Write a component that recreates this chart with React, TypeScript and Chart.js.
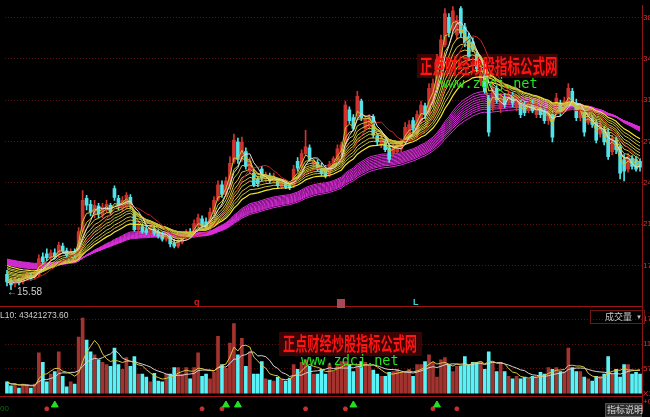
import React, { useEffect, useRef } from 'react';
import { Chart, registerables } from 'chart.js';

Chart.register(...registerables);

// ---- data ----
const opens = [16.86,16.37,16.05,16.37,16.21,16.53,16.78,16.62,16.78,18.32,18.56,18.24,18.64,18.48,19.21,18.81,18.48,18.73,18.32,20.43,23.19,22.70,21.89,22.54,21.81,22.22,22.62,24.00,23.19,22.38,22.46,23.27,21.89,20.59,20.84,20.59,20.35,20.67,20.35,20.11,19.78,19.94,19.46,19.21,19.54,19.86,20.35,20.27,20.92,21.49,21.24,21.08,22.05,23.11,24.33,23.52,24.25,26.28,27.90,26.52,27.09,25.47,25.30,24.82,25.63,24.82,25.06,24.65,24.65,24.16,24.49,24.33,24.25,26.28,25.79,26.93,27.42,26.12,26.20,25.87,25.63,25.14,26.03,26.44,27.09,27.74,30.58,29.93,30.10,31.31,29.04,29.20,30.02,28.39,27.66,27.90,27.42,26.93,27.09,27.33,27.90,28.31,29.69,28.55,29.69,30.91,30.34,31.15,32.37,34.40,36.02,38.30,37.24,36.83,39.03,37.49,36.67,36.27,35.21,32.93,34.07,31.56,30.74,32.37,30.74,31.64,31.23,31.80,30.83,31.15,30.99,30.51,31.15,30.18,30.74,30.50,29.69,30.18,30.34,31.15,30.74,31.15,32.12,31.15,29.93,30.34,29.53,29.85,29.53,28.55,28.96,28.71,27.09,28.06,27.50,26.44,25.63,26.52,26.44,26.28];
const highs = [17.18,16.53,16.62,16.53,16.78,17.02,16.94,17.10,18.48,18.64,18.97,18.89,18.97,19.54,19.46,19.05,18.97,18.97,20.76,23.84,23.44,23.03,23.03,22.78,22.78,23.03,22.78,24.25,23.44,23.35,23.68,23.51,22.22,21.24,21.08,20.92,21.00,20.92,20.59,20.35,20.27,20.11,19.78,19.78,20.11,20.59,20.67,21.41,21.89,21.73,21.57,22.38,23.35,24.65,24.65,24.98,26.68,28.55,28.23,28.31,27.42,26.60,25.63,25.06,25.87,25.38,25.30,25.30,24.90,24.73,24.73,24.57,25.95,26.60,27.25,28.88,27.66,26.44,26.44,26.12,25.95,26.28,26.68,27.66,27.90,31.31,30.83,30.18,32.12,31.48,30.10,30.18,30.18,28.63,28.55,28.15,27.66,27.74,27.90,28.15,29.53,29.69,29.93,30.50,31.31,31.15,32.77,33.18,35.21,36.83,39.03,38.62,39.20,38.46,39.20,37.81,36.99,36.59,35.54,33.91,34.40,31.80,32.77,32.61,31.96,31.96,32.12,32.04,31.80,31.39,31.31,31.31,31.39,31.15,30.99,30.83,30.66,30.50,31.96,31.39,31.64,32.77,32.37,31.48,30.74,30.58,30.26,30.10,29.77,29.69,29.20,29.04,28.47,28.31,27.74,26.85,26.93,26.76,26.68,26.52];
const lows = [15.88,15.58,15.80,15.96,16.05,16.37,16.37,16.45,16.62,17.75,18.00,18.08,18.16,18.32,18.64,18.32,18.32,18.24,18.16,20.27,22.22,21.73,21.57,21.57,21.57,21.98,21.81,23.03,22.22,22.13,22.30,22.30,20.43,20.35,20.27,20.19,20.19,20.11,19.86,19.62,19.62,19.13,19.05,19.05,19.38,19.70,19.94,20.11,20.76,20.76,20.59,20.92,21.89,22.95,23.27,23.35,24.00,26.12,26.12,26.28,25.63,25.30,24.16,24.16,24.65,24.57,24.49,24.49,24.00,24.00,24.00,23.92,24.08,25.47,25.63,26.76,26.28,25.63,25.47,25.06,24.90,24.98,25.87,26.28,26.85,27.58,29.45,28.88,29.85,29.69,28.80,28.96,28.23,27.66,27.42,27.09,26.20,26.68,26.93,27.09,27.74,28.06,28.71,28.31,29.45,29.85,30.18,30.83,32.12,34.23,35.86,36.67,37.08,36.43,36.67,35.86,34.80,35.45,33.75,32.61,31.96,28.39,30.50,31.15,30.34,30.74,30.99,30.83,30.50,29.93,30.10,30.34,30.34,29.93,29.93,29.45,29.36,27.90,30.18,30.10,30.50,30.91,30.91,29.69,29.69,28.39,29.36,29.12,27.82,28.31,27.66,26.44,26.85,26.93,24.82,24.65,25.38,25.63,25.47,25.47];
const closes = [16.21,15.96,16.45,16.13,16.62,16.86,16.53,16.94,18.16,17.91,18.24,18.64,18.32,19.29,18.81,18.48,18.73,18.48,20.43,23.03,22.62,22.05,22.62,21.89,22.46,22.70,22.05,23.27,22.54,23.03,23.44,22.54,20.59,20.92,20.43,20.35,20.76,20.27,20.03,19.78,20.11,19.38,19.21,19.62,19.94,20.35,20.11,21.08,21.57,20.92,20.76,22.05,23.03,24.33,23.52,24.65,26.12,28.06,26.44,27.90,25.87,26.28,24.33,24.41,24.90,25.14,24.65,24.98,24.25,24.49,24.16,24.08,25.63,25.71,26.93,27.50,26.44,26.28,25.63,25.30,25.06,26.03,26.52,27.33,27.66,30.99,29.69,29.04,31.72,29.93,29.85,29.93,28.47,27.90,28.23,27.25,26.44,27.42,27.66,27.90,29.12,29.36,29.04,30.18,30.99,30.18,32.37,32.77,34.80,36.43,38.62,37.00,38.86,38.05,36.99,36.18,35.05,35.62,33.99,33.59,32.12,28.71,32.37,31.39,31.56,30.99,31.80,31.15,31.56,30.18,30.34,31.07,30.50,30.83,30.18,29.69,30.34,28.31,31.56,30.34,31.31,32.37,31.15,29.93,30.50,28.71,30.02,29.36,28.06,29.36,27.90,26.68,28.23,27.25,25.30,25.47,26.68,25.87,25.63,25.79];
const volumes = [2700,1800,2200,1300,2200,2000,1300,2200,9400,7200,2700,4500,5100,9600,4000,1600,2700,2200,13000,17400,12300,9600,8900,7800,7200,6700,6300,10500,6700,5600,8300,6300,8500,4500,4500,3800,2700,4700,2900,2700,4500,4500,6000,6000,4500,6000,3400,6000,9400,4000,4500,3400,4900,13200,6700,5800,11600,16100,8900,12700,6300,9600,4500,4500,7400,3400,3100,2900,3800,3400,2900,3600,6700,5600,7200,7800,6300,4500,4500,5600,4500,6700,5100,6700,7400,7400,6700,5100,6700,7400,7200,6300,5400,4500,4000,4000,4900,5100,5600,4900,4900,5600,4000,6700,6700,7400,8900,7200,3800,7800,8300,6700,5100,6300,6300,8500,6700,7200,7200,7400,5600,9600,7400,5100,7200,5100,4000,3400,4000,3400,3800,3400,4000,4000,4900,4500,6000,5600,6000,5100,5100,10500,6000,5100,5100,3800,3400,2900,4000,4000,4500,8500,4500,5600,3800,6700,6700,4500,4900,4500];

const priceTicks = [17.6, 21.05, 24.5, 27.95, 31.4, 34.85, 38.3];
const volumeTicks = [0, 5700, 11400, 17100];
const volumeTickLabels = ['X100', '5700', '11400', '17100'];
const indicatorTicks = [6];
const indicatorTickLabels = ['+0.00'];

const shortPeriods = [3, 5, 7, 9, 11, 13, 15, 18, 21, 25];
const shortSeeds = [16.6, 16.7, 16.8, 16.95, 17.1, 17.2, 17.3, 17.45, 17.55, 17.7];
const longPeriods = [36, 38, 40, 42, 44, 46, 48, 50, 52, 55];
const longSeeds = [17.75, 17.8, 17.85, 17.9, 17.95, 18.0, 18.05, 18.1, 18.15, 18.2];

const buySignals = [12, 55, 58, 87, 108];
const sellSignals = [10, 49, 54, 75, 85, 107, 113];

const lowLabel = '\u219015.58';
const volumeHeader = 'L10: 43421273.60';
const watermarkCn = '正点财经炒股指标公式网';
const watermarkUrl = 'www.zdcj.net';

// ---- helpers ----
function ema(src: number[], period: number, seed: number): number[] {
  const k = 2 / (period + 1);
  let prev = seed;
  return src.map((v) => {
    prev = prev + k * (v - prev);
    return prev;
  });
}
function sma(src: number[], period: number): number[] {
  return src.map((_, i) => {
    const from = Math.max(0, i - period + 1);
    const win = src.slice(from, i + 1);
    return win.reduce((a, b) => a + b, 0) / win.length;
  });
}

const labels = closes.map((_, i) => String(i + 1));
const up = closes.map((c, i) => c >= opens[i]);
const candleColors = up.map((u) => (u ? '#d0332d' : '#52e3ea'));
const volColors = up.map((u) => (u ? '#a2332e' : '#5af2f6'));

const overlay = {
  id: 'overlay',
  beforeDatasetsDraw(chart: any) {
    const ctx = chart.ctx as CanvasRenderingContext2D;
    ctx.save();
    ctx.fillStyle = 'rgba(62,4,4,0.9)';
    ctx.fillRect(417, 54, 141, 24);
    ctx.fillRect(279, 332, 143, 24);
    ctx.restore();
  },
  afterDatasetsDraw(chart: any) {
    const ctx = chart.ctx as CanvasRenderingContext2D;
    const sV = chart.scales.yV;
    const sI = chart.scales.yI;
    const right = chart.chartArea.right;
    ctx.save();
    ctx.strokeStyle = '#9c1414';
    ctx.lineWidth = 1;
    ctx.beginPath();
    ctx.moveTo(0, Math.round(sV.top) + 0.5);
    ctx.lineTo(right, Math.round(sV.top) + 0.5);
    ctx.moveTo(0, Math.round(sI.top) + 0.5);
    ctx.lineTo(right, Math.round(sI.top) + 0.5);
    ctx.stroke();

    const drawCn = (x: number, y: number, size: number) => {
      ctx.save();
      ctx.translate(x, y);
      ctx.scale(1, 1.6);
      ctx.font = `bold ${size}px "Noto Sans CJK SC"`;
      ctx.fillStyle = '#ff1414';
      ctx.textBaseline = 'middle';
      ctx.textAlign = 'left';
      ctx.fillText(watermarkCn, 0, 0);
      ctx.restore();
    };
    drawCn(420, 66, 12.5);
    drawCn(283, 344, 12.2);
    ctx.font = '13.5px "DejaVu Sans Mono"';
    ctx.fillStyle = '#22e622';
    ctx.textBaseline = 'middle';
    ctx.fillText(watermarkUrl, 440, 84);
    ctx.fillText(watermarkUrl, 301, 361);

    ctx.font = '10px "Liberation Sans"';
    ctx.fillStyle = '#d0d0d0';
    ctx.fillText(lowLabel, 7, 292);

    ctx.font = '8.5px "Liberation Sans"';
    ctx.fillStyle = '#cfcfcf';
    ctx.fillText(volumeHeader, 0, 316);

    ctx.font = 'bold 9px "Liberation Sans"';
    ctx.fillStyle = '#d42020';
    ctx.fillText('q', 194, 303);
    ctx.fillStyle = '#a84858';
    ctx.fillRect(337, 299, 8, 9);
    ctx.fillStyle = '#30d6d6';
    ctx.fillText('L', 413, 303);

    ctx.strokeStyle = '#701414';
    ctx.strokeRect(590.5, 310.5, 54, 13);
    ctx.font = '9px "Noto Sans CJK SC"';
    ctx.fillStyle = '#c8c8c8';
    ctx.fillText('成交量', 605, 317);
    ctx.font = '6px "Liberation Sans"';
    ctx.fillText('\u25BC', 636, 317);

    ctx.fillStyle = '#2e2e2e';
    ctx.fillRect(605, 403, 37, 14);
    ctx.strokeStyle = '#505050';
    ctx.strokeRect(605.5, 403.5, 36, 13);
    ctx.font = '9px "Noto Sans CJK SC"';
    ctx.fillStyle = '#d8d8d8';
    ctx.fillText('指标说明', 607, 410);

    ctx.font = '8px "Liberation Sans"';
    ctx.fillStyle = '#0d6a0d';
    ctx.fillText('00', 0, 409);
    ctx.restore();
  },
};

function makeConfig(): any {
  const datasets: any[] = [];
  datasets.push({ type: 'line', label: 'MA5', data: sma(closes, 5), yAxisID: 'yP', borderColor: '#dedede', borderWidth: 1, pointRadius: 0, order: 2 });
  datasets.push({ type: 'line', label: 'MA10', data: sma(closes, 10), yAxisID: 'yP', borderColor: '#c42222', borderWidth: 1, pointRadius: 0, order: 3 });
  shortPeriods.forEach((p, k) => {
    datasets.push({
      type: 'line', label: 'EMA' + p, data: ema(closes, p, shortSeeds[k]), yAxisID: 'yP',
      borderColor: k === shortPeriods.length - 1 ? '#f2e626' : '#cdc23a',
      borderWidth: k === shortPeriods.length - 1 ? 1.2 : 1, pointRadius: 0, order: 4,
    });
  });
  datasets.push({
    type: 'bar', label: 'body', data: opens.map((o, i) => [o, closes[i]]), yAxisID: 'yP',
    backgroundColor: candleColors, barThickness: 3, grouped: false, borderWidth: 0, order: 5,
  });
  datasets.push({
    type: 'bar', label: 'wick', data: lows.map((l, i) => [l, highs[i]]), yAxisID: 'yP',
    backgroundColor: candleColors, barThickness: 1, grouped: false, borderWidth: 0, order: 6,
  });
  longPeriods.forEach((p, k) => {
    datasets.push({
      type: 'line', label: 'EMA' + p, data: ema(closes, p, longSeeds[k]), yAxisID: 'yP',
      borderColor: '#dc2edc', borderWidth: 1, pointRadius: 0, order: 7,
    });
  });
  datasets.push({ type: 'line', label: 'VMA5', data: sma(volumes, 5), yAxisID: 'yV', borderColor: '#d8c83c', borderWidth: 1, pointRadius: 0, order: 1 });
  datasets.push({ type: 'line', label: 'VMA10', data: sma(volumes, 10), yAxisID: 'yV', borderColor: '#d4d4d4', borderWidth: 1, pointRadius: 0, order: 1 });
  datasets.push({
    type: 'bar', label: 'VOL', data: volumes, yAxisID: 'yV',
    backgroundColor: volColors, barThickness: 3, grouped: false, borderWidth: 0, order: 8,
  });
  datasets.push({
    type: 'line', label: 'buy', data: labels.map((_, i) => (buySignals.includes(i) ? 4 : null)), yAxisID: 'yI',
    showLine: false, pointStyle: 'triangle', pointRadius: 4, pointBackgroundColor: '#22e022', pointBorderColor: '#22e022', order: 0,
  });
  datasets.push({
    type: 'line', label: 'sell', data: labels.map((_, i) => (sellSignals.includes(i) ? 1.5 : null)), yAxisID: 'yI',
    showLine: false, pointStyle: 'circle', pointRadius: 2, pointBackgroundColor: '#c83030', pointBorderColor: '#c83030', order: 0,
  });

  const axisCommon = (weight: number) => ({
    position: 'right',
    stack: 'right',
    stackWeight: weight,
    afterFit: (s: any) => { s.width = 8; },
    grid: { color: '#5e1111', drawTicks: false, lineWidth: 1 },
    border: { display: true, color: '#8e1515', dash: [1, 2] },
  });

  return {
    type: 'bar',
    data: { labels, datasets },
    options: {
      responsive: false,
      animation: false,
      devicePixelRatio: 1,
      events: [],
      layout: { padding: 0 },
      plugins: { legend: { display: false }, tooltip: { enabled: false } },
      scales: {
        x: { display: false, offset: true },
        yP: {
          ...axisCommon(309),
          min: 14.19, max: 39.27,
          afterBuildTicks: (s: any) => { s.ticks = priceTicks.map((v) => ({ value: v })); },
          ticks: { color: '#e03030', font: { size: 8 }, padding: 1, callback: (v: any) => Number(v).toFixed(2) },
        },
        yV: {
          ...axisCommon(92),
          min: -450, max: 20100,
          afterBuildTicks: (s: any) => { s.ticks = volumeTicks.map((v) => ({ value: v })); },
          ticks: { color: '#e03030', font: { size: 8 }, padding: 1, callback: (v: any) => volumeTickLabels[volumeTicks.indexOf(Number(v))] },
          grid: { color: (c: any) => (c.tick && c.tick.value === 0 ? 'rgba(0,0,0,0)' : '#5e1111'), drawTicks: false },
        },
        yI: {
          ...axisCommon(16),
          min: 0, max: 10,
          afterBuildTicks: (s: any) => { s.ticks = indicatorTicks.map((v) => ({ value: v })); },
          ticks: { color: '#e03030', font: { size: 8 }, padding: 1, callback: (v: any) => indicatorTickLabels[indicatorTicks.indexOf(Number(v))] },
          grid: { display: false, drawTicks: false },
        },
      },
    },
    plugins: [overlay],
  };
}

export default function App() {
  const ref = useRef<HTMLCanvasElement>(null);
  useEffect(() => {
    document.body.style.margin = '0';
    document.body.style.background = '#000';
    Chart.defaults.font.family = '"Liberation Sans", Arial, sans-serif';
    const chart = new Chart(ref.current as HTMLCanvasElement, makeConfig());
    return () => chart.destroy();
  }, []);
  return (
    <div style={{ position: 'fixed', left: 0, top: 0, width: 650, height: 417, background: '#000', overflow: 'hidden' }}>
      <canvas ref={ref} width={650} height={417} style={{ display: 'block', width: 650, height: 417 }} />
    </div>
  );
}
